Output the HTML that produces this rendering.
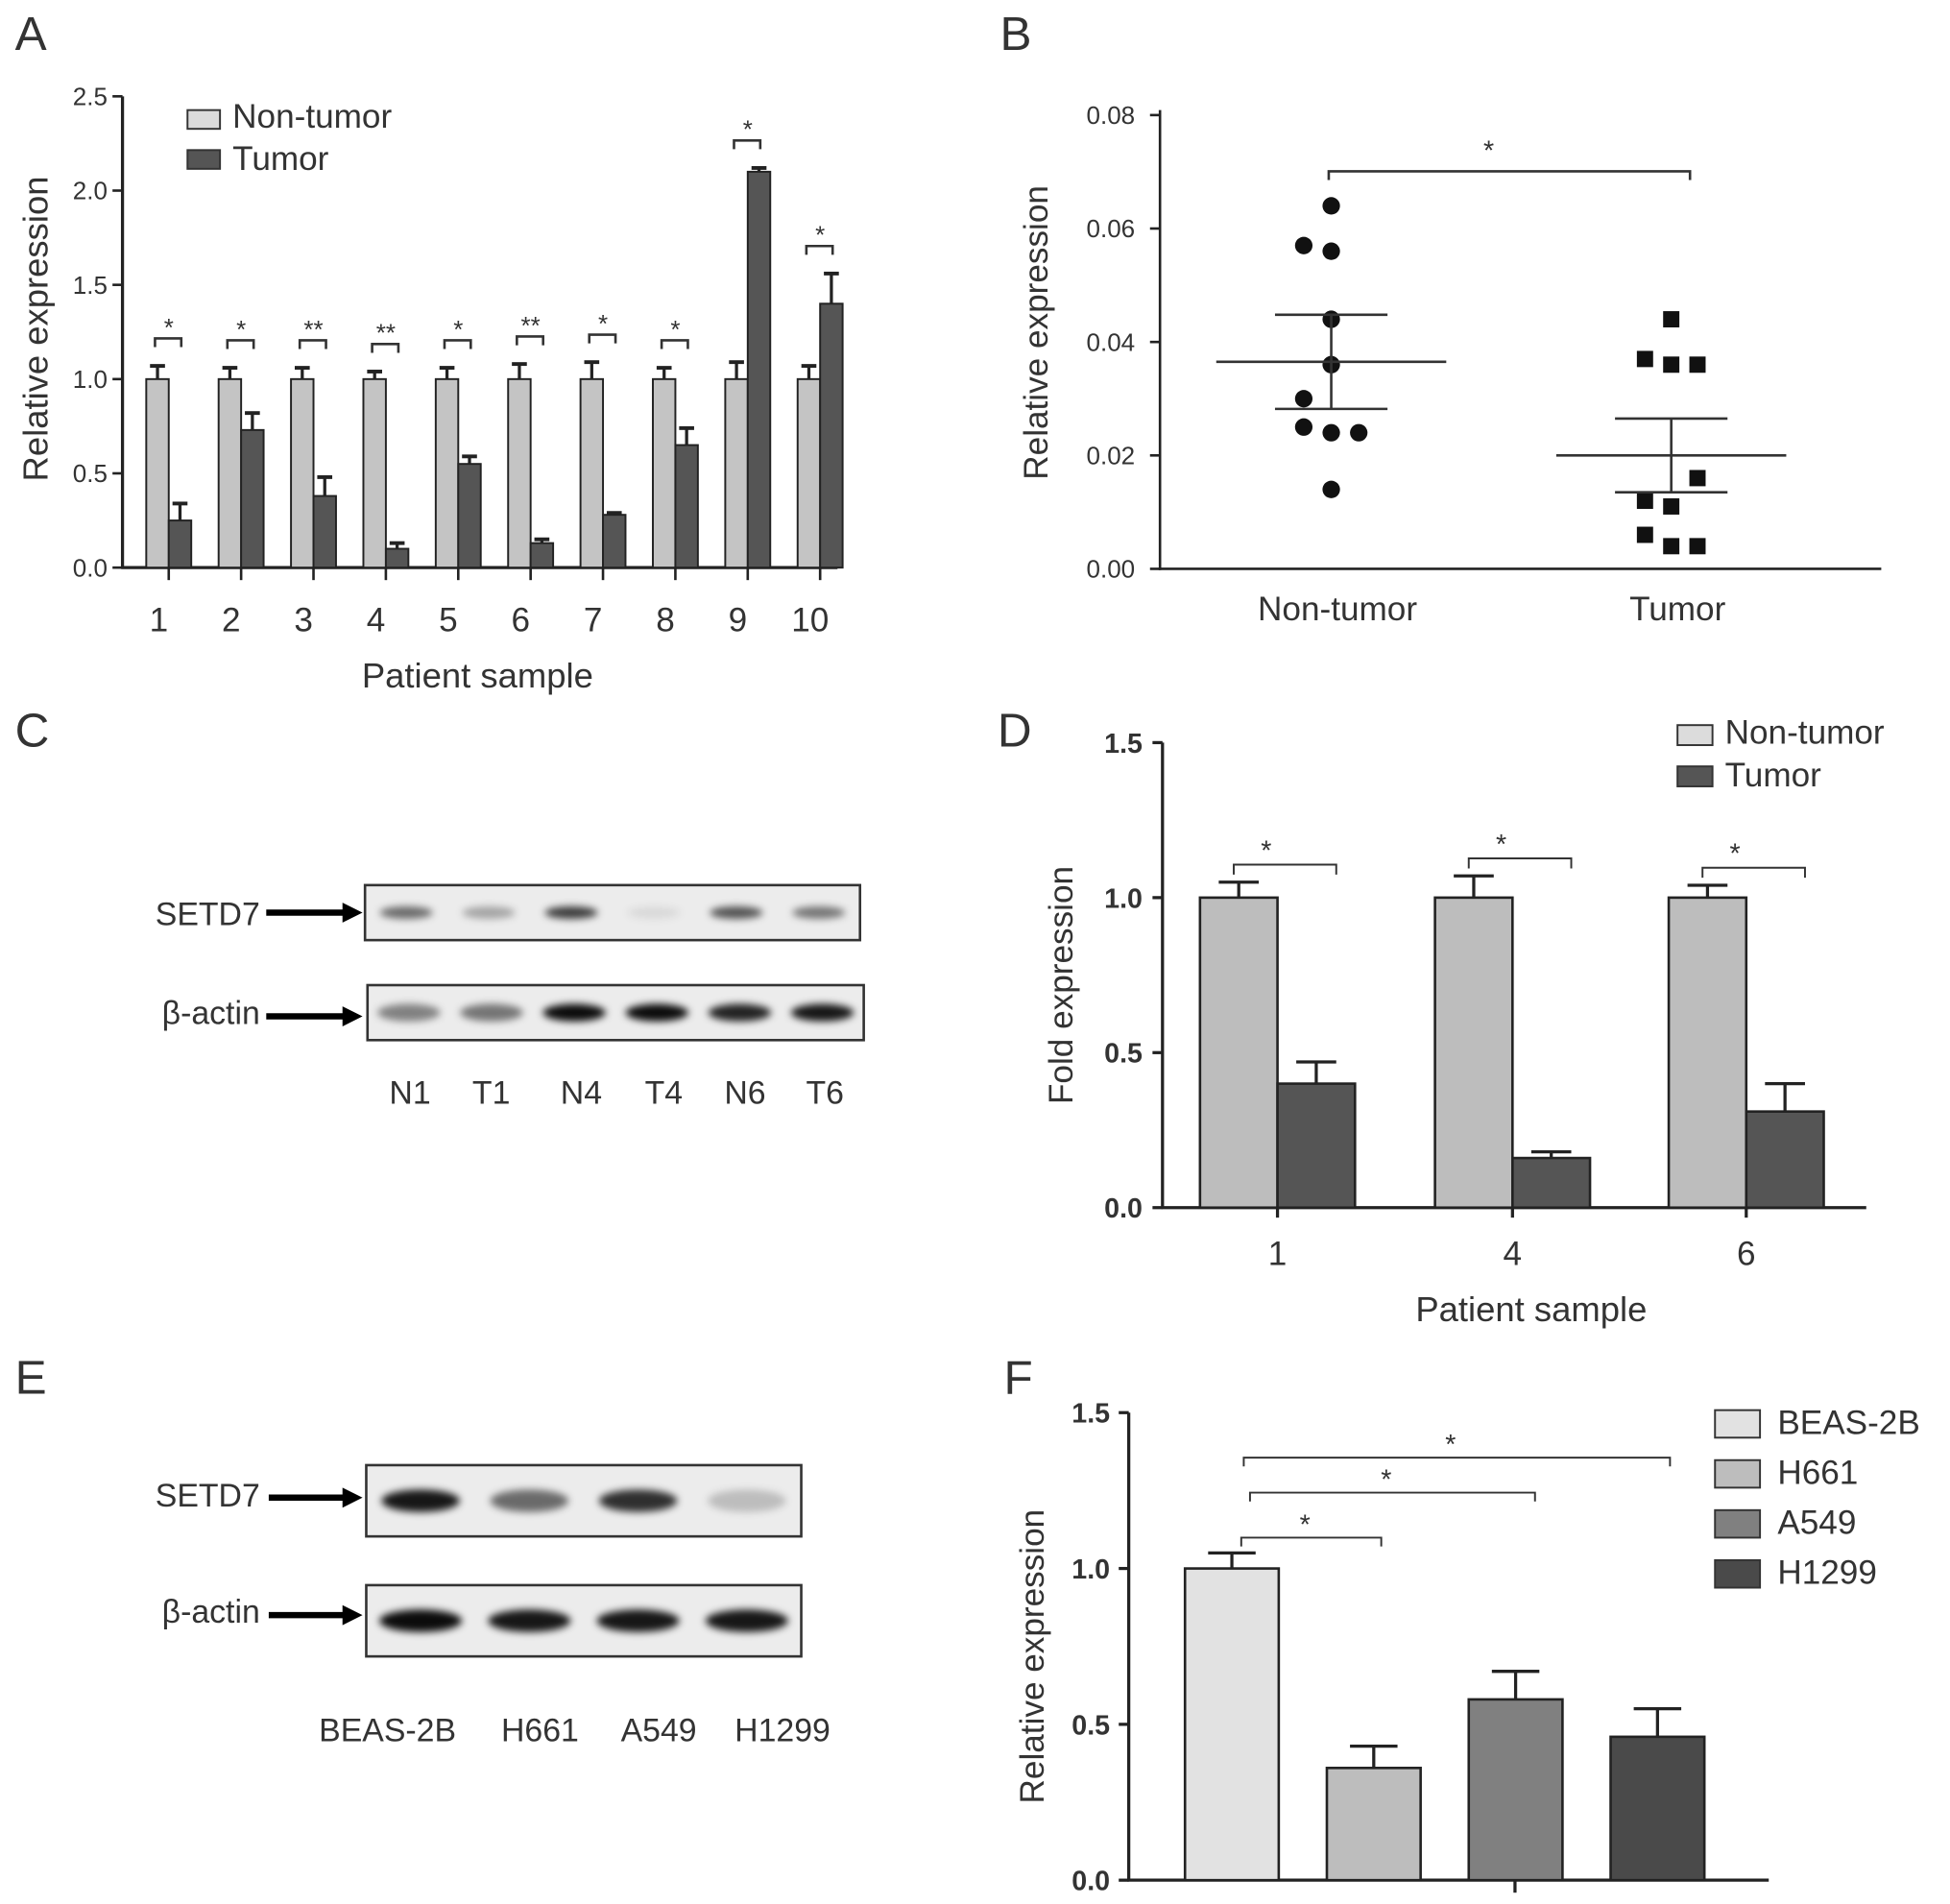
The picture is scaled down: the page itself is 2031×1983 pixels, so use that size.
<!DOCTYPE html>
<html><head><meta charset="utf-8"><style>
html,body{margin:0;padding:0;background:#fff;}
svg{display:block;font-family:"Liberation Sans",sans-serif;}
text{fill:#333;}
</style></head><body>
<svg id="fig" width="2031" height="1983" viewBox="0 0 1560 1523" xmlns="http://www.w3.org/2000/svg">
<defs>
<filter id="blur" x="-20%" y="-200%" width="140%" height="500%"><feGaussianBlur stdDeviation="3"/></filter>
</defs>
<g id="pA"></g>
<g id="pB"></g>
<g id="pC"></g>
<g id="pD"></g>
<g id="pE"></g>
<g id="pF"></g>
</svg>
<script>
// ---- Panel A data ----
const aCategories = ["1","2","3","4","5","6","7","8","9","10"];
const aNonTumor = [1,1,1,1,1,1,1,1,1,1];
const aNonTumorErr = [0.07,0.06,0.06,0.04,0.06,0.08,0.09,0.06,0.09,0.07];
const aTumor = [0.25,0.73,0.38,0.10,0.55,0.13,0.28,0.65,2.10,1.40];
const aTumorErr = [0.09,0.09,0.10,0.03,0.04,0.02,0.01,0.09,0.02,0.16];
const aStars = ["*","*","**","**","*","**","*","*","*","*"];
const aTicks = ["0.0","0.5","1.0","1.5","2.0","2.5"];
// ---- Panel B data ----
const bGroups = ["Non-tumor","Tumor"];
const bNonTumorPts = [0.064,0.057,0.056,0.044,0.036,0.030,0.025,0.024,0.024,0.014];
const bNonTumorOffset = [0,-1,0,0,0,-1,-1,0,1,0];
const bTumorPts = [0.044,0.037,0.036,0.036,0.016,0.012,0.011,0.006,0.004,0.004];
const bTumorOffset = [0,-1,0,1,1,-1,0,-1,0,1];
const bMeans = [0.0365,0.0200];
const bSem = [0.0083,0.0065];
const bTicks = ["0.00","0.02","0.04","0.06","0.08"];
// ---- Panel D data ----
const dCategories = ["1","4","6"];
const dNonTumor = [1,1,1];
const dNonTumorErr = [0.05,0.07,0.04];
const dTumor = [0.40,0.16,0.31];
const dTumorErr = [0.07,0.02,0.09];
const dTicks = ["0.0","0.5","1.0","1.5"];
// ---- Panel F data ----
const fCategories = ["BEAS-2B","H661","A549","H1299"];
const fValues = [1.00,0.36,0.58,0.46];
const fErr = [0.05,0.07,0.09,0.09];
const fTicks = ["0.0","0.5","1.0","1.5"];
// blot intensities
const cSetd7 = [0.55,0.3,0.75,0.08,0.65,0.5];
const cActin = [0.45,0.5,0.95,0.95,0.85,0.9];
const cLanes = ["N1","T1","N4","T4","N6","T6"];
const eSetd7 = [0.9,0.55,0.8,0.2];
const eActin = [0.95,0.9,0.9,0.9];
const eLanes = ["BEAS-2B","H661","A549","H1299"];

const NS="http://www.w3.org/2000/svg";
function el(parent,tag,attrs,txt){const e=document.createElementNS(NS,tag);for(const k in attrs)e.setAttribute(k,attrs[k]);if(txt!==undefined)e.textContent=txt;parent.appendChild(e);return e;}
function line(p,x1,y1,x2,y2,w,c){return el(p,'line',{x1,y1,x2,y2,stroke:c||'#222','stroke-width':w||2});}

// ===== Panel A =====
(function(){
const g=document.getElementById('pA');
const L=el(g,'text',{x:12,y:40,'font-size':38},'A');

const y0=454,yTop=77,max=2.5;
const y=v=>y0-(v/max)*(y0-yTop);
const x=i=>135+i*57.9;
line(g,98,yTop,98,y0+1,2.5);line(g,97,y0,670,y0,2.5);
aTicks.forEach((t,i)=>{const v=parseFloat(t);line(g,90,y(v),98,y(v),2);
 const tt=el(g,'text',{x:86,y:y(v)+7,'font-size':20,'text-anchor':'end'},t);
 });
const yl=el(g,'text',{x:0,y:0,'font-size':28,'text-anchor':'middle',transform:'translate(38,263) rotate(-90)'},'Relative  expression');

aCategories.forEach((c,i)=>{
 const cx=x(i);
 line(g,cx,y0,cx,y0+10,2);
 const t=el(g,'text',{x:cx-8,y:505,'font-size':27,'text-anchor':'middle'},c);
 
 const b1=el(g,'rect',{x:cx-18,y:y(aNonTumor[i]),width:18,height:y0-y(aNonTumor[i]),fill:'#c4c4c4',stroke:'#222','stroke-width':1.5});
 
 const b2=el(g,'rect',{x:cx,y:y(aTumor[i]),width:18,height:y0-y(aTumor[i]),fill:'#555',stroke:'#222','stroke-width':1.5});
 
 const e1=y(aNonTumor[i]+aNonTumorErr[i]);line(g,cx-9,y(aNonTumor[i]),cx-9,e1,2.5);line(g,cx-15,e1,cx-3,e1,3);
 const e2=y(aTumor[i]+aTumorErr[i]);line(g,cx+9,y(aTumor[i]),cx+9,e2,2.5);line(g,cx+3,e2,cx+15,e2,3);
 const top=Math.max(aNonTumor[i]+aNonTumorErr[i],aTumor[i]+aTumorErr[i]);
 const by=y(top)-22;
 el(g,'path',{d:`M${cx-11},${by+7}V${by}H${cx+10}V${by+7}`,fill:'none',stroke:'#333','stroke-width':2});
 const s=el(g,'text',{x:cx,y:by-2,'font-size':20,'text-anchor':'middle'},aStars[i]);
 
});
const xt=el(g,'text',{x:382,y:550,'font-size':28,'text-anchor':'middle'},'Patient sample');

const l1=el(g,'rect',{x:150,y:88,width:26,height:15,fill:'#dcdcdc',stroke:'#333','stroke-width':1.5});

const lt1=el(g,'text',{x:186,y:102,'font-size':27},'Non-tumor');

const l2=el(g,'rect',{x:150,y:120,width:26,height:15,fill:'#555',stroke:'#333','stroke-width':1.5});

const lt2=el(g,'text',{x:186,y:136,'font-size':27},'Tumor');

})();

// ===== Panel B =====
(function(){
const g=document.getElementById('pB');
const L=el(g,'text',{x:800,y:40,'font-size':38},'B');

const y0=455,yTop=92,max=0.08;
const y=v=>y0-(v/max)*(y0-yTop);
line(g,928,yTop-4,928,y0+1,2);line(g,927,y0,1505,y0,2);
bTicks.forEach(t=>{const v=parseFloat(t);line(g,920,y(v),928,y(v),2);
 const tt=el(g,'text',{x:908,y:y(v)+7,'font-size':20,'text-anchor':'end'},t);
 });
const yl=el(g,'text',{x:0,y:0,'font-size':27,'text-anchor':'middle',transform:'translate(838,266) rotate(-90)'},'Relative  expression');

const gx=[1065,1337];
bGroups.forEach((n,i)=>{const t=el(g,'text',{x:gx[i]+5,y:496,'font-size':27,'text-anchor':'middle'},n);
 });
bNonTumorPts.forEach((v,i)=>{const c=el(g,'circle',{cx:gx[0]+bNonTumorOffset[i]*22,cy:y(v),r:7,fill:'#111'});
 });
bTumorPts.forEach((v,i)=>{const s=13;const r=el(g,'rect',{x:gx[1]+bTumorOffset[i]*21-s/2,y:y(v)-s/2,width:s,height:s,fill:'#111'});
 });
bMeans.forEach((m,i)=>{const c=gx[i];
 const ml=line(g,c-92,y(m),c+92,y(m),2,'#333');
 line(g,c-45,y(m+bSem[i]),c+45,y(m+bSem[i]),2,'#333');line(g,c-45,y(m-bSem[i]),c+45,y(m-bSem[i]),2,'#333');
 line(g,c,y(m+bSem[i]),c,y(m-bSem[i]),2,'#333');});
el(g,'path',{d:'M1063,144V137H1352V144',fill:'none',stroke:'#333','stroke-width':2});
const st=el(g,'text',{x:1191,y:128,'font-size':22,'text-anchor':'middle'},'*');

})();

// ===== Blot helper =====
function blot(g,name,x,yy,w,h,ints,bh,bandW){
 const box=el(g,'rect',{x,y:yy,width:w,height:h,fill:'#ececec',stroke:'#333','stroke-width':2});
 
 const n=ints.length,lw=w/n;
 ints.forEach((v,i)=>{const b=el(g,'ellipse',{cx:x+lw*(i+0.5),cy:yy+h/2,rx:lw*bandW,ry:bh,fill:'#000','fill-opacity':v,filter:'url(#blur)'});
  });
}
function arrow(g,x1,x2,yy){line(g,x1,yy,x2-12,yy,5,'#000');el(g,'path',{d:`M${x2-16},${yy-8}L${x2},${yy}L${x2-16},${yy+8}Z`,fill:'#000'});}

// ===== Panel C =====
(function(){
const g=document.getElementById('pC');
const L=el(g,'text',{x:12,y:597,'font-size':38},'C');

const t1=el(g,'text',{x:208,y:740,'font-size':26,'text-anchor':'end'},'SETD7');
arrow(g,213,290,730);
blot(g,'setd7-blot',292,708,396,44,cSetd7,5,0.32);
const t2=el(g,'text',{x:208,y:819,'font-size':26,'text-anchor':'end'},'β-actin');
arrow(g,213,290,813);
blot(g,'actin-blot',294,788,397,44,cActin,7,0.38);
const lx=[328,393,465,531,596,660];
cLanes.forEach((l,i)=>{const t=el(g,'text',{x:lx[i],y:883,'font-size':26,'text-anchor':'middle'},l);
 });
})();

// ===== Panel D =====
(function(){
const g=document.getElementById('pD');
const L=el(g,'text',{x:798,y:597,'font-size':38},'D');

const y0=966,yTop=594,max=1.5;
const y=v=>y0-(v/max)*(y0-yTop);
line(g,930,yTop,930,y0+1,2.5);line(g,929,y0,1493,y0,2.5);
dTicks.forEach(t=>{const v=parseFloat(t);line(g,922,y(v),930,y(v),2.5);
 const tt=el(g,'text',{x:914,y:y(v)+8,'font-size':22,'font-weight':'bold','text-anchor':'end'},t);
 });
const yl=el(g,'text',{x:0,y:0,'font-size':27,'text-anchor':'middle',transform:'translate(858,788) rotate(-90)'},'Fold  expression');

const cx0=[1022,1210,1397];
dCategories.forEach((c,i)=>{const cx=cx0[i];
 line(g,cx,y0,cx,y0+8,2.5);
 const t=el(g,'text',{x:cx,y:1012,'font-size':27,'text-anchor':'middle'},c);
 const b1=el(g,'rect',{x:cx-62,y:y(dNonTumor[i]),width:62,height:y0-y(dNonTumor[i]),fill:'#bdbdbd',stroke:'#222','stroke-width':2});
 
 const b2=el(g,'rect',{x:cx,y:y(dTumor[i]),width:62,height:y0-y(dTumor[i]),fill:'#555',stroke:'#222','stroke-width':2});
 
 const e1=y(dNonTumor[i]+dNonTumorErr[i]);line(g,cx-31,y(dNonTumor[i]),cx-31,e1,2.5);line(g,cx-47,e1,cx-15,e1,2.5);
 const e2=y(dTumor[i]+dTumorErr[i]);line(g,cx+31,y(dTumor[i]),cx+31,e2,2.5);line(g,cx+15,e2,cx+47,e2,2.5);
 const by=y(dNonTumor[i]+dNonTumorErr[i])-14;
 el(g,'path',{d:`M${cx-35},${by+8}V${by}H${cx+47}V${by+8}`,fill:'none',stroke:'#333','stroke-width':1.5});
 const s=el(g,'text',{x:cx-9,y:by-4,'font-size':22,'text-anchor':'middle'},'*');
});
const xt=el(g,'text',{x:1225,y:1057,'font-size':28,'text-anchor':'middle'},'Patient sample');

const l1=el(g,'rect',{x:1342,y:580,width:28,height:16,fill:'#dcdcdc',stroke:'#333','stroke-width':1.5});
const lt1=el(g,'text',{x:1380,y:595,'font-size':27},'Non-tumor');
const l2=el(g,'rect',{x:1342,y:613,width:28,height:16,fill:'#555',stroke:'#333','stroke-width':1.5});
const lt2=el(g,'text',{x:1380,y:629,'font-size':27},'Tumor');
})();

// ===== Panel E =====
(function(){
const g=document.getElementById('pE');
const L=el(g,'text',{x:12,y:1115,'font-size':38},'E');

const t1=el(g,'text',{x:208,y:1205,'font-size':26,'text-anchor':'end'},'SETD7');
arrow(g,215,290,1198);
blot(g,'setd7-blot',293,1172,348,57,eSetd7,9,0.36);
const t2=el(g,'text',{x:208,y:1298,'font-size':26,'text-anchor':'end'},'β-actin');
arrow(g,215,290,1292);
blot(g,'actin-blot',293,1268,348,57,eActin,9,0.38);
const lx=[310,432,527,626];
eLanes.forEach((l,i)=>{const t=el(g,'text',{x:lx[i],y:1393,'font-size':26,'text-anchor':'middle'},l);
 });
})();

// ===== Panel F =====
(function(){
const g=document.getElementById('pF');
const L=el(g,'text',{x:803,y:1115,'font-size':38},'F');

const y0=1504,yTop=1130,max=1.5;
const y=v=>y0-(v/max)*(y0-yTop);
line(g,903,yTop,903,y0+1,2.5);line(g,902,y0,1415,y0,2.5);
line(g,1212,y0,1212,y0+10,2.5);
fTicks.forEach(t=>{const v=parseFloat(t);line(g,895,y(v),903,y(v),2.5);
 const tt=el(g,'text',{x:888,y:y(v)+8,'font-size':22,'font-weight':'bold','text-anchor':'end'},t);
 });
const yl=el(g,'text',{x:0,y:0,'font-size':27,'text-anchor':'middle',transform:'translate(835,1325) rotate(-90)'},'Relative  expression');

const cols=['#e2e2e2','#bdbdbd','#808080','#4a4a4a'];
const bx=i=>948+i*113.5;
fCategories.forEach((c,i)=>{
 const r=el(g,'rect',{x:bx(i),y:y(fValues[i]),width:75,height:y0-y(fValues[i]),fill:cols[i],stroke:'#222','stroke-width':2});
 
 const cx=bx(i)+37.5,e=y(fValues[i]+fErr[i]);
 line(g,cx,y(fValues[i]),cx,e,2.5);line(g,cx-19,e,cx+19,e,2.5);
 const s=el(g,'rect',{x:1372,y:1128+i*40,width:36,height:22,fill:cols[i],stroke:'#333','stroke-width':1.5});
 
 const t=el(g,'text',{x:1422,y:1147+i*40,'font-size':27},c);
 
});
const br=[[993,1105,1230],[1000,1228,1194],[995,1336,1166]];
br.forEach(b=>{el(g,'path',{d:`M${b[0]},${b[2]+7}V${b[2]}H${b[1]}V${b[2]+7}`,fill:'none',stroke:'#333','stroke-width':1.5});
 const s=el(g,'text',{x:(b[0]+b[1])/2-5,y:b[2]-3,'font-size':22,'text-anchor':'middle'},'*');
 });
})();
</script>
</body></html>
